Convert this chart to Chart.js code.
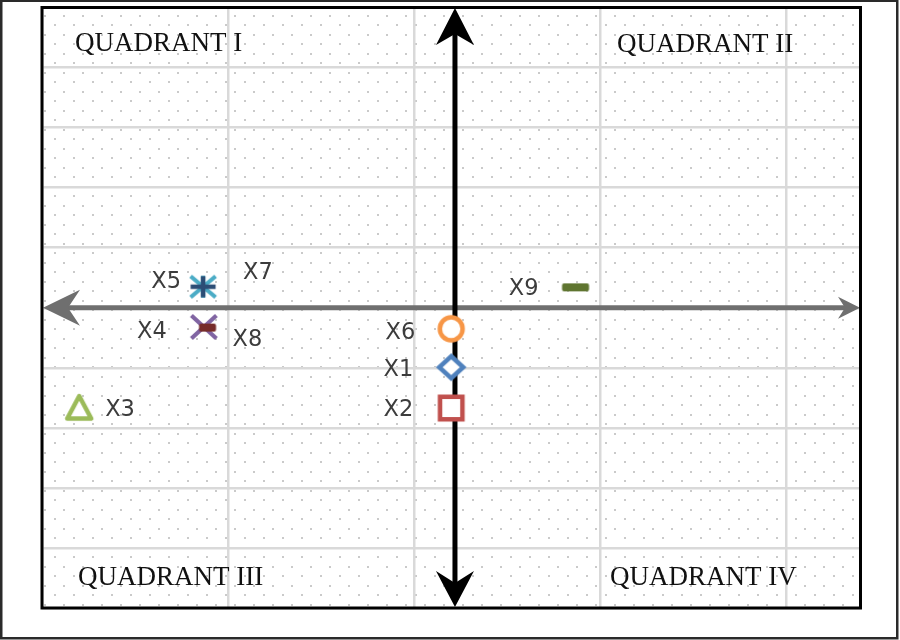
<!DOCTYPE html>
<html>
<head>
<meta charset="utf-8">
<script src="https://cdn.jsdelivr.net/npm/chart.js@4.4.1/dist/chart.umd.min.js"></script>
<style>
  html, body { margin: 0; padding: 0; background: #ffffff; }
  #wrap { width: 900px; height: 640px; position: relative; }
  canvas { display: block; }
</style>
</head>
<body>
<div id="wrap"><canvas id="c" width="900" height="640"></canvas></div>
<script>
// ---------- DATA ----------
const seriesNames = ['X1', 'X2', 'X3', 'X4', 'X5', 'X6', 'X7', 'X8', 'X9'];
const xValues = [11.0, 11.0, 1.0, 4.35, 4.33, 11.0, 4.33, 4.45, 14.34];
const yValues = [-0.99, -1.67, -1.67, -0.32, 0.35, -0.35, 0.35, -0.33, 0.34];
const xGridTicks = [0, 5, 10, 15, 20];
const yGridTicks = [-5, -4, -3, -2, -1, 0, 1, 2, 3, 4, 5];
const quadrantLabels = ['QUADRANT I', 'QUADRANT II', 'QUADRANT III', 'QUADRANT IV'];

// ---------- STYLES ----------
const markerTypes = ['diamond', 'square', 'triangle', 'x', 'star', 'circle', 'plus', 'dot', 'dash'];
const markerColors = ['#4F81BD', '#C0504D', '#9BBB59', '#8064A2', '#4BACC6', '#F79646', '#2C4D75', '#772C2A', '#5F7530'];
// label placement relative to the point: [dx, dy, align]
const labelPlacement = {
  X1: [-38, 1, 'right'], X2: [-38, 0, 'right'], X3: [26, 0, 'left'],
  X4: [-37, 3, 'right'], X5: [-22, -7, 'right'], X6: [-36, 2, 'right'],
  X7: [40, -16, 'left'], X8: [25, 10, 'left'], X9: [-37, 0, 'right']
};

function makeMarker(type, color) {
  const S = 36, c = S / 2;
  const cv = document.createElement('canvas');
  cv.width = S; cv.height = S;
  const g = cv.getContext('2d');
  g.strokeStyle = color; g.fillStyle = color;
  g.lineWidth = 4.5;
  g.lineJoin = 'miter';
  g.lineCap = 'butt';
  g.beginPath();
  switch (type) {
    case 'diamond':
      g.moveTo(c, c - 11); g.lineTo(c + 12, c); g.lineTo(c, c + 11); g.lineTo(c - 12, c); g.closePath();
      g.fillStyle = '#fff'; g.fill(); g.stroke(); break;
    case 'square':
      g.rect(c - 11.2, c - 11.2, 22.4, 22.4);
      g.fillStyle = '#fff'; g.fill(); g.stroke(); break;
    case 'triangle':
      g.lineJoin = 'round';
      g.moveTo(c, c - 12); g.lineTo(c + 12, c + 10.5); g.lineTo(c - 12, c + 10.5); g.closePath();
      g.fillStyle = '#fff'; g.fill(); g.stroke(); break;
    case 'circle':
      g.arc(c, c, 11.4, 0, Math.PI * 2);
      g.fillStyle = '#fff'; g.fill(); g.stroke(); break;
    case 'x':
      g.lineWidth = 4.2;
      g.moveTo(c - 12.5, c - 11.5); g.lineTo(c + 12.5, c + 11.5);
      g.moveTo(c + 12.5, c - 11.5); g.lineTo(c - 12.5, c + 11.5);
      g.stroke(); break;
    case 'star':
      g.lineWidth = 4.2;
      g.moveTo(c - 12.5, c - 10.5); g.lineTo(c + 12.5, c + 10.5);
      g.moveTo(c + 12.5, c - 10.5); g.lineTo(c - 12.5, c + 10.5);
      g.moveTo(c, c - 11); g.lineTo(c, c + 11);
      g.stroke(); break;
    case 'plus':
      g.lineWidth = 4.5;
      g.moveTo(c - 12.5, c); g.lineTo(c + 12.5, c);
      g.moveTo(c, c - 10.5); g.lineTo(c, c + 10.5);
      g.stroke(); break;
    case 'dot':
      roundRect(g, c - 8.5, c - 4, 17, 8, 2); g.fill(); break;
    case 'dash':
      roundRect(g, c - 13.5, c - 4, 27, 8, 2); g.fill(); break;
  }
  return cv;
}
function roundRect(g, x, y, w, h, r) {
  g.moveTo(x + r, y); g.lineTo(x + w - r, y); g.quadraticCurveTo(x + w, y, x + w, y + r);
  g.lineTo(x + w, y + h - r); g.quadraticCurveTo(x + w, y + h, x + w - r, y + h);
  g.lineTo(x + r, y + h); g.quadraticCurveTo(x, y + h, x, y + h - r);
  g.lineTo(x, y + r); g.quadraticCurveTo(x, y, x + r, y); g.closePath();
}

// ---------- PLUGINS ----------
const backgroundDots = {
  id: 'backgroundDots',
  beforeDraw(chart) {
    const { ctx, chartArea: a } = chart;
    ctx.save();
    ctx.fillStyle = '#ffffff';
    ctx.fillRect(0, 0, chart.width, chart.height);
    ctx.fillStyle = '#cacaca';
    const step = 19;
    for (let row = 0; ; row++) {
      const y = a.top + 8.2 + row * step / 2;
      if (y > a.bottom - 1) break;
      const x0 = a.left + (row % 2 === 0 ? 3.3 : 12.8);
      for (let x = x0; x < a.right - 1; x += step) {
        ctx.fillRect(Math.round(x) - 1, Math.round(y) - 1, 2, 2);
      }
    }
    ctx.restore();
  }
};

function arrowHead(ctx, tx, ty, dx, dy, len, half, notch) {
  const px = -dy, py = dx;
  ctx.beginPath();
  ctx.moveTo(tx, ty);
  ctx.lineTo(tx - dx * len + px * half, ty - dy * len + py * half);
  ctx.lineTo(tx - dx * notch, ty - dy * notch);
  ctx.lineTo(tx - dx * len - px * half, ty - dy * len - py * half);
  ctx.closePath();
  ctx.fill();
}

const axesArrows = {
  id: 'axesArrows',
  beforeDatasetsDraw(chart) {
    const { ctx, chartArea: a, scales } = chart;
    const yc = scales.y.getPixelForValue(0);
    const xc = scales.x.getPixelForValue(11.1);
    ctx.save();
    // horizontal grey arrow
    ctx.strokeStyle = '#6f6f6f'; ctx.fillStyle = '#6f6f6f';
    ctx.lineWidth = 5;
    ctx.beginPath(); ctx.moveTo(a.left + 24, yc); ctx.lineTo(a.right - 14, yc); ctx.stroke();
    arrowHead(ctx, a.left + 1, yc, -1, 0, 37, 18, 25);
    arrowHead(ctx, a.right - 0.5, yc, 1, 0, 22, 11, 15);
    // vertical black arrow
    ctx.strokeStyle = '#000'; ctx.fillStyle = '#000';
    ctx.beginPath(); ctx.moveTo(xc, a.top + 24); ctx.lineTo(xc, a.bottom - 22); ctx.stroke();
    arrowHead(ctx, xc, a.top + 0.5, 0, -1, 37, 19, 26);
    arrowHead(ctx, xc, a.bottom - 1, 0, 1, 36, 19, 24);
    ctx.restore();
  }
};

const labelsAndFrame = {
  id: 'labelsAndFrame',
  afterDatasetsDraw(chart) {
    const { ctx, chartArea: a } = chart;
    ctx.save();
    // point labels
    ctx.font = '22.5px "DejaVu Sans", sans-serif';
    ctx.fillStyle = '#3c3c3c';
    ctx.textBaseline = 'alphabetic';
    chart.data.datasets.forEach((ds, i) => {
      const el = chart.getDatasetMeta(i).data[0];
      const p = labelPlacement[ds.label];
      ctx.textAlign = p[2];
      ctx.fillText(ds.label, el.x + p[0], el.y + p[1] + 8);
    });
    // quadrant labels
    ctx.font = '27px "Liberation Serif", "Times New Roman", serif';
    ctx.fillStyle = '#111111';
    ctx.textAlign = 'left';
    ctx.fillText(quadrantLabels[0], a.left + 33, a.top + 43);
    ctx.fillText(quadrantLabels[1], a.left + 575, a.top + 44.5);
    ctx.fillText(quadrantLabels[2], a.left + 36, a.bottom - 23);
    ctx.fillText(quadrantLabels[3], a.left + 568, a.bottom - 23);
    // plot frame
    ctx.strokeStyle = '#000'; ctx.lineWidth = 3;
    ctx.strokeRect(a.left, a.top, a.right - a.left, a.bottom - a.top);
    // outer frame
    ctx.strokeStyle = '#2a2a2a'; ctx.lineWidth = 2.5;
    ctx.strokeRect(1.25, 0.75, 896, 637.5);
    ctx.restore();
  }
};

// ---------- CHART ----------
// later series are drawn on top of earlier ones (as in the reference)
const datasets = seriesNames.map((name, i) => ({
  label: name,
  data: [{ x: xValues[i], y: yValues[i] }],
  pointStyle: makeMarker(markerTypes[i], markerColors[i]),
  pointRadius: 12,
  pointHoverRadius: 12,
  showLine: false,
  order: seriesNames.length - i
}));

const gridOpts = { color: '#d9d9d9', lineWidth: 2.5, drawTicks: false };

new Chart(document.getElementById('c'), {
  type: 'scatter',
  data: { datasets },
  options: {
    responsive: false,
    animation: false,
    devicePixelRatio: 1,
    events: [],
    layout: { autoPadding: false, padding: { left: 42, top: 7.5, right: 39.5, bottom: 32 } },
    plugins: { legend: { display: false }, tooltip: { enabled: false } },
    scales: {
      x: {
        type: 'linear', min: 0, max: 22,
        afterBuildTicks: s => { s.ticks = xGridTicks.map(v => ({ value: v })); },
        ticks: { display: false },
        grid: gridOpts,
        border: { display: false }
      },
      y: {
        type: 'linear', min: -5, max: 5,
        afterBuildTicks: s => { s.ticks = yGridTicks.map(v => ({ value: v })); },
        ticks: { display: false },
        grid: gridOpts,
        border: { display: false }
      }
    }
  },
  plugins: [backgroundDots, axesArrows, labelsAndFrame]
});
</script>
</body>
</html>
